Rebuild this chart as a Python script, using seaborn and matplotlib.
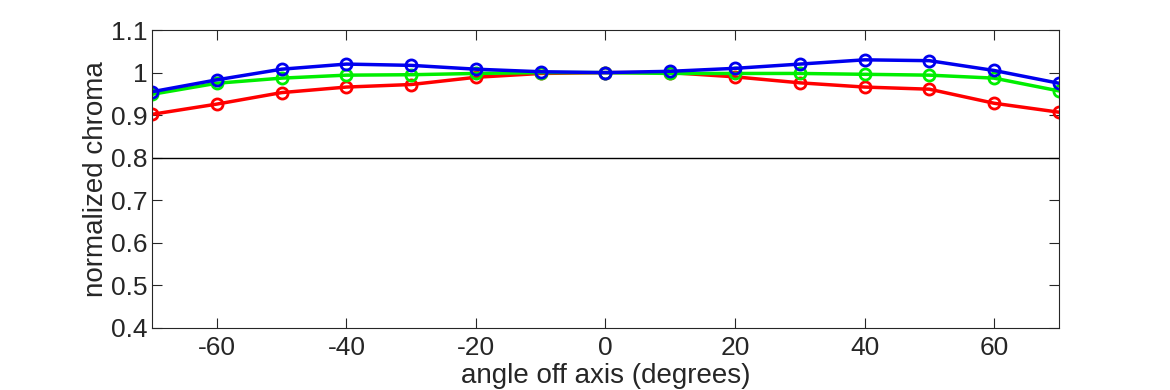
import matplotlib
matplotlib.use("Agg")
import matplotlib.pyplot as plt
import numpy as np
import pandas as pd
import seaborn as sns

# ── data ────────────────────────────────────────────────────────────────────
angles = [-70, -60, -50, -40, -30, -20, -10, 0, 10, 20, 30, 40, 50, 60, 70]
red   = [0.902, 0.926, 0.953, 0.966, 0.972, 0.989, 0.998, 1.000,
         1.000, 0.990, 0.976, 0.966, 0.961, 0.928, 0.907]
green = [0.949, 0.975, 0.987, 0.994, 0.995, 0.998, 1.000, 1.000,
         0.998, 0.998, 0.998, 0.996, 0.994, 0.987, 0.957]
blue  = [0.955, 0.983, 1.008, 1.020, 1.017, 1.008, 1.002, 1.000,
         1.003, 1.010, 1.020, 1.030, 1.028, 1.005, 0.975]
series = {"red": (red, "#ff0000"), "green": (green, "#00ee00"), "blue": (blue, "#0000ee")}

x_ticks = [-60, -40, -20, 0, 20, 40, 60]
y_ticks = [0.4, 0.5, 0.6, 0.7, 0.8, 0.9, 1.0, 1.1]

# ── style ───────────────────────────────────────────────────────────────────
sns.set_style("ticks")
plt.rcParams["font.family"] = ["Liberation Sans", "DejaVu Sans"]
plt.rcParams["axes.unicode_minus"] = False
plt.rcParams["xtick.direction"] = "in"
plt.rcParams["ytick.direction"] = "in"

fig = plt.figure(figsize=(11.7, 3.9), dpi=100)
ax = fig.add_axes([0.130, 0.159, 0.775, 0.764])

for name, (vals, col) in series.items():
    df = pd.DataFrame({"angle": angles, "chroma": vals})
    sns.lineplot(data=df, x="angle", y="chroma", ax=ax, color=col,
                 linewidth=2.5, marker="o", markersize=8,
                 markerfacecolor="none", markeredgecolor=col,
                 markeredgewidth=2)

ax.axhline(0.8, color="black", linewidth=1)

ax.set_xlim(-70, 70)
ax.set_ylim(0.4, 1.1)
ax.set_xticks(x_ticks)
ax.set_yticks(y_ticks)
ax.set_yticklabels([f"{v:g}" for v in y_ticks])
ax.tick_params(axis="both", which="both", direction="in", top=True, right=True,
               length=7, width=0.8, labelsize=19, color="#262626",
               labelcolor="#262626", pad=3)
ax.tick_params(axis="x", pad=6)
for s in ax.spines.values():
    s.set_linewidth(0.8)
    s.set_color("#262626")
    s.set_visible(True)

ax.set_xlabel("angle off axis (degrees)", fontsize=20, color="#262626", labelpad=2)
ax.set_ylabel("normalized chroma", fontsize=20, color="#262626", labelpad=2)

fig.savefig("out.png", dpi=100)
